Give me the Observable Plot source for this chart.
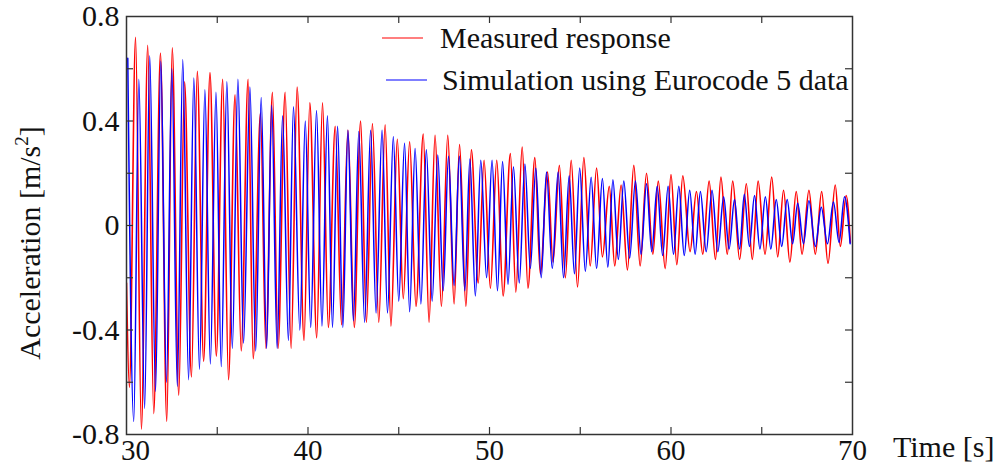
<!DOCTYPE html>
<html><head><meta charset="utf-8">
<script src="https://cdn.jsdelivr.net/npm/d3@7"></script>
<script src="https://cdn.jsdelivr.net/npm/@observablehq/plot@0.6"></script>
<style>
body{margin:0;background:#fff}
#chart svg{font-family:"Liberation Serif","Times New Roman",serif;}
</style>
</head><body><div id="chart"></div>
<script>
// ---- data ----
const seriesNames = ["Measured response", "Simulation using Eurocode 5 data"];
const seriesColors = ["#ff0000", "#0000ff"];

// Measured response: times [s] and accelerations [m/s²] of the peaks and troughs
const redTopT = [30.50,31.17,31.87,32.52,33.20,33.90,34.60,35.30,35.98,36.70,37.38,38.04,38.74,39.40,40.10,40.80,41.50,42.20,42.90,43.55,44.25,44.92,45.60,46.35,47.00,47.70,48.35,49.00,49.70,50.40,51.15,51.80,52.50,53.20,53.85,54.50,55.20,55.90,56.60,57.25,57.95,58.65,59.30,60.00,60.65,61.40,62.10,62.75,63.40,64.15,64.80,65.55,66.20,66.90,67.60,68.30,69.05,69.65];
const redTopV = [0.72,0.69,0.66,0.68,0.55,0.59,0.585,0.56,0.50,0.56,0.43,0.51,0.51,0.53,0.47,0.47,0.38,0.365,0.40,0.39,0.385,0.33,0.32,0.35,0.345,0.345,0.31,0.29,0.25,0.25,0.275,0.30,0.26,0.205,0.23,0.25,0.26,0.22,0.15,0.155,0.23,0.20,0.17,0.195,0.19,0.13,0.17,0.185,0.17,0.16,0.17,0.185,0.135,0.13,0.135,0.13,0.155,0.115];
const redBotT = [30.00,30.16,30.82,31.50,32.22,32.88,33.58,34.25,34.95,35.62,36.32,36.98,37.68,38.35,39.07,39.78,40.48,41.12,41.85,42.55,43.22,43.90,44.57,45.25,45.95,46.67,47.35,48.05,48.70,49.38,50.05,50.75,51.45,52.12,52.80,53.50,54.18,54.85,55.55,56.22,56.90,57.60,58.30,59.00,59.68,60.32,61.05,61.75,62.45,63.10,63.78,64.48,65.18,65.88,66.55,67.22,67.95,68.65,69.33,69.88];
const redBotV = [-0.22,-0.62,-0.78,-0.72,-0.75,-0.65,-0.58,-0.52,-0.50,-0.59,-0.48,-0.51,-0.47,-0.47,-0.47,-0.44,-0.43,-0.39,-0.38,-0.39,-0.37,-0.37,-0.385,-0.28,-0.31,-0.37,-0.31,-0.30,-0.31,-0.22,-0.24,-0.27,-0.255,-0.24,-0.185,-0.14,-0.20,-0.235,-0.155,-0.12,-0.155,-0.17,-0.155,-0.11,-0.165,-0.15,-0.10,-0.11,-0.13,-0.11,-0.13,-0.13,-0.11,-0.12,-0.14,-0.11,-0.11,-0.145,-0.08,-0.065];

// Simulation using Eurocode 5 data: peaks and troughs
const blueTopT = [30.07,30.68,31.28,31.89,32.50,33.10,33.71,34.32,34.93,35.53,36.14,36.80,37.42,38.00,38.60,39.20,39.85,40.47,41.07,41.63,42.20,42.80,43.45,44.08,44.70,45.32,45.90,46.52,47.15,47.74,48.34,48.92,49.52,50.14,50.72,51.32,51.95,52.55,53.14,53.78,54.39,54.97,55.60,56.22,56.80,57.40,58.04,58.65,59.24,59.84,60.43,61.03,61.62,62.26,62.90,63.50,64.04,64.60,65.20,65.80,66.40,66.98,67.60,68.28,68.95,69.56];
const blueTopV = [0.64,0.56,0.65,0.63,0.60,0.635,0.565,0.52,0.51,0.55,0.56,0.53,0.49,0.46,0.42,0.455,0.40,0.44,0.42,0.38,0.365,0.36,0.365,0.365,0.34,0.315,0.295,0.29,0.27,0.265,0.265,0.255,0.25,0.25,0.245,0.225,0.235,0.22,0.205,0.205,0.19,0.22,0.185,0.18,0.175,0.17,0.17,0.16,0.15,0.15,0.15,0.135,0.13,0.135,0.11,0.10,0.12,0.115,0.11,0.10,0.10,0.085,0.095,0.07,0.09,0.11];
const blueBotT = [30.40,31.00,31.60,32.20,32.80,33.42,34.02,34.62,35.22,35.83,36.45,37.12,37.72,38.30,38.92,39.55,40.15,40.77,41.35,41.92,42.50,43.12,43.75,44.38,45.00,45.60,46.22,46.84,47.45,48.05,48.64,49.22,49.84,50.44,51.02,51.64,52.25,52.85,53.46,54.08,54.68,55.28,55.90,56.52,57.10,57.72,58.35,58.94,59.54,60.14,60.73,61.33,61.94,62.58,63.20,63.78,64.32,64.90,65.50,66.10,66.70,67.30,67.95,68.62,69.26,69.87];
const blueBotV = [-0.75,-0.70,-0.635,-0.60,-0.615,-0.59,-0.55,-0.53,-0.54,-0.47,-0.45,-0.48,-0.47,-0.47,-0.44,-0.40,-0.39,-0.385,-0.39,-0.39,-0.365,-0.37,-0.335,-0.335,-0.29,-0.33,-0.30,-0.29,-0.25,-0.23,-0.25,-0.27,-0.20,-0.25,-0.225,-0.22,-0.165,-0.20,-0.165,-0.20,-0.185,-0.175,-0.165,-0.16,-0.13,-0.125,-0.11,-0.10,-0.115,-0.11,-0.115,-0.11,-0.10,-0.10,-0.09,-0.09,-0.08,-0.09,-0.09,-0.08,-0.07,-0.07,-0.08,-0.07,-0.065,-0.07];

const xDomain = [30, 70];
const yDomain = [-0.8, 0.8];
const xFirstTick = [30];
const xLabelTicks = [40, 50, 60, 70];
const xMinorTicks = [35, 40, 45, 50, 55, 60, 65];
const yLabelTicks = [-0.8, -0.4, 0, 0.4, 0.8];
const yMinorTicks = [-0.6, -0.4, -0.2, 0, 0.2, 0.4, 0.6];
const xTitle = "Time [s]";
const yTitle = "Acceleration [m/s";
const yTitleSup = "2";

// ---- build rows ----
function buildRows(topT, topV, botT, botV) {
  const rows = [];
  topT.forEach((t, i) => rows.push({t, v: topV[i]}));
  botT.forEach((t, i) => rows.push({t, v: botV[i]}));
  return rows.sort((a, b) => a.t - b.t);
}
const redRows = buildRows(redTopT, redTopV, redBotT, redBotV);
const blueRows = buildRows(blueTopT, blueTopV, blueBotT, blueBotV);

const W = 999, H = 465, ML = 126, MR = 147, MT = 16, MB = 31;
const FW = W - ML - MR, FH = H - MT - MB, TL = 7;
const ink = "#333";
const xAxisStyle = {tickSize: 0, tickPadding: 5, fontSize: 29, label: null, tickFormat: d => String(d), fill: "#111"};

const chart = Plot.plot({
  width: W, height: H,
  marginLeft: ML, marginRight: MR, marginTop: MT, marginBottom: MB,
  x: {domain: xDomain},
  y: {domain: yDomain},
  style: {fontFamily: "'Liberation Serif','Times New Roman',serif", background: "#fff", overflow: "visible", color: "#111"},
  marks: [
    Plot.line(redRows, {x: "t", y: "v", stroke: seriesColors[0], strokeWidth: 1.6, curve: "monotone-x", clip: true}),
    Plot.line(blueRows, {x: "t", y: "v", stroke: seriesColors[1], strokeWidth: 1.5, curve: "monotone-x", clip: true}),
    Plot.tickX(xMinorTicks, {x: d => d, insetTop: FH - TL, stroke: ink, strokeWidth: 1.2}),
    Plot.tickX(xMinorTicks, {x: d => d, insetBottom: FH - TL, stroke: ink, strokeWidth: 1.2}),
    Plot.tickY(yMinorTicks, {y: d => d, insetRight: FW - TL, stroke: ink, strokeWidth: 1.2}),
    Plot.tickY(yMinorTicks, {y: d => d, insetLeft: FW - TL, stroke: ink, strokeWidth: 1.2}),
    Plot.frame({stroke: ink, strokeWidth: 1.5}),
    Plot.axisX(xLabelTicks, xAxisStyle),
    Plot.axisX(xFirstTick, {...xAxisStyle, dx: 9}),
    Plot.axisY(yLabelTicks, {tickSize: 0, tickPadding: 7, fontSize: 30, label: null, tickFormat: d => String(d), fill: "#111"})
  ]
});
document.getElementById("chart").appendChild(chart);

const svg = d3.select(chart);
const font = "'Liberation Serif','Times New Roman',serif";

// axis titles
svg.append("text").attr("x", 893).attr("y", 457).attr("text-anchor", "start")
  .attr("font-family", font).attr("font-size", 30).attr("fill", "#111").text(xTitle);
const yt = svg.append("text").attr("transform", "translate(40,243) rotate(-90)")
  .attr("text-anchor", "middle").attr("font-family", font).attr("font-size", 30).attr("fill", "#111");
yt.append("tspan").text(yTitle);
yt.append("tspan").attr("font-size", 19).attr("dy", -12).text(yTitleSup);
yt.append("tspan").attr("dy", 12).text("]");

// legend
const legend = [
  {name: seriesNames[0], color: seriesColors[0], x1: 382, x2: 423, ly: 38, tx: 440, ty: 48},
  {name: seriesNames[1], color: seriesColors[1], x1: 386, x2: 427, ly: 80, tx: 442, ty: 90}
];
legend.forEach(l => {
  svg.append("line").attr("x1", l.x1).attr("x2", l.x2).attr("y1", l.ly).attr("y2", l.ly)
    .attr("stroke", l.color).attr("stroke-width", 1.2);
  svg.append("text").attr("x", l.tx).attr("y", l.ty).attr("text-anchor", "start").attr("font-family", font)
    .attr("font-size", 30).attr("fill", "#111").text(l.name);
});
</script>
</body></html>
